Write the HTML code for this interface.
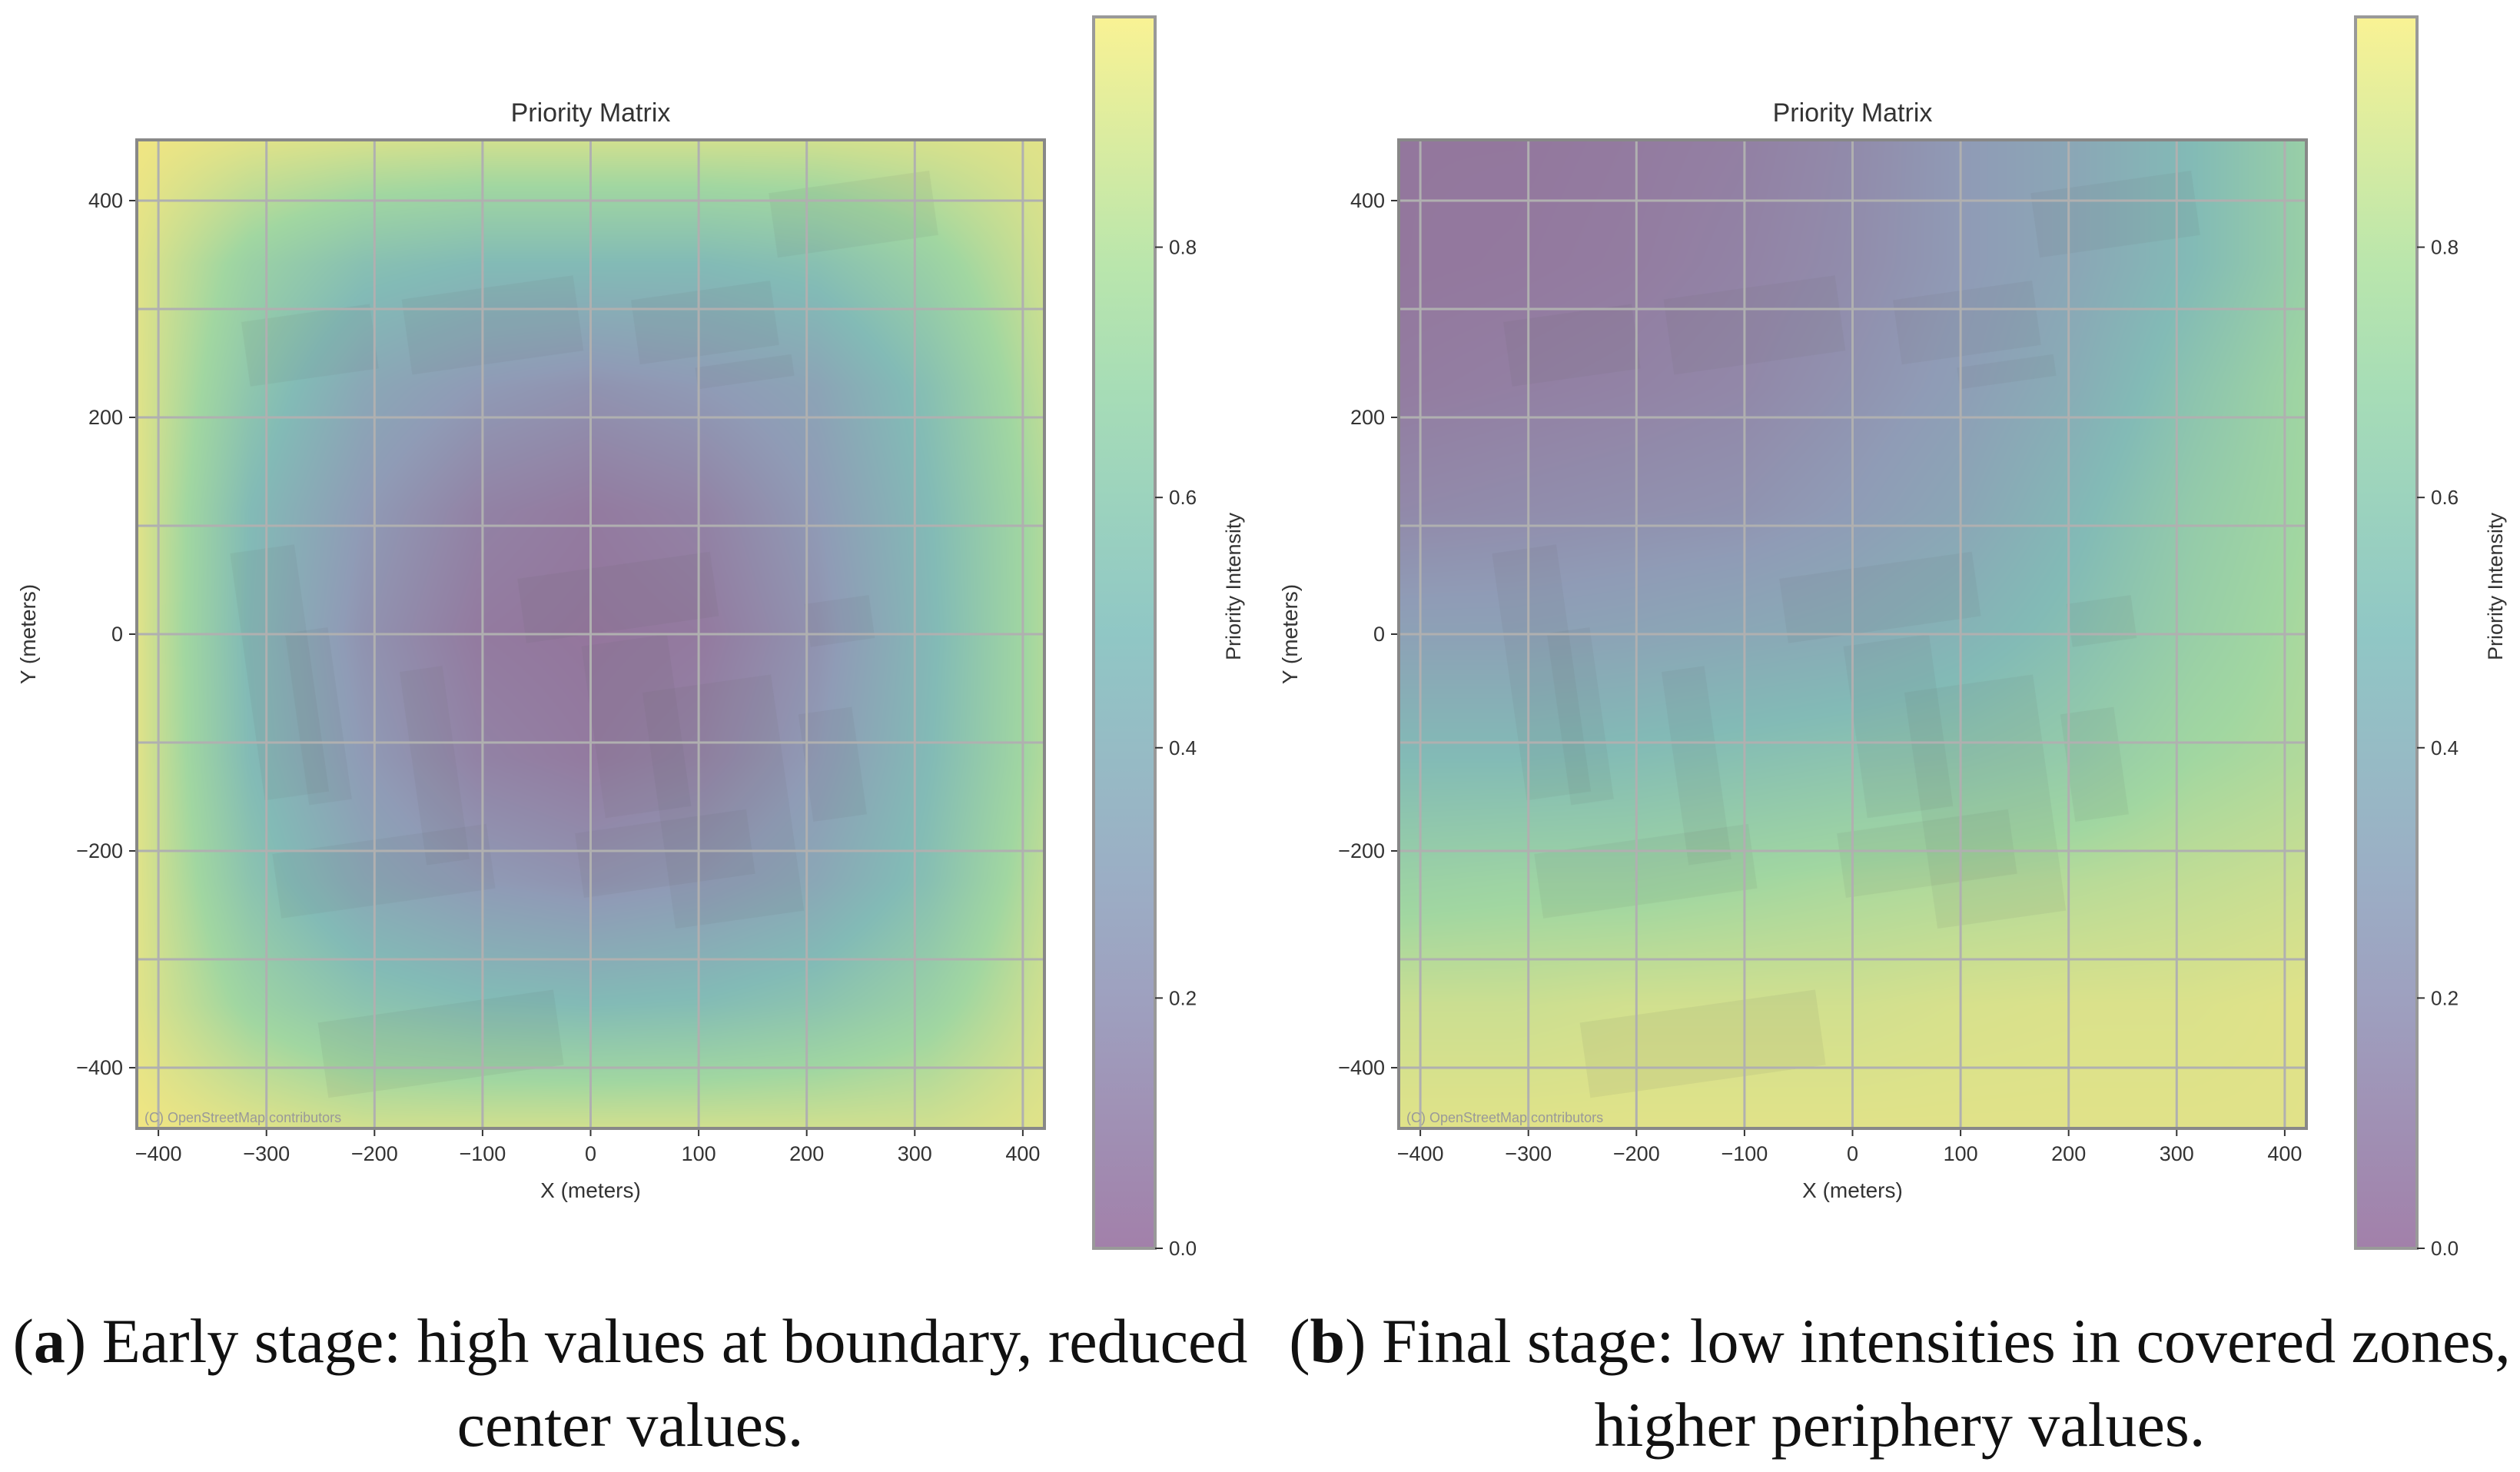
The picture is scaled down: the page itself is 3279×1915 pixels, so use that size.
<!DOCTYPE html>
<html><head><meta charset="utf-8">
<style>
html,body{margin:0;padding:0;background:#fff;}
body{width:3279px;height:1915px;position:relative;overflow:hidden;font-family:"Liberation Sans",sans-serif;}
.cap{position:absolute;font-family:"Liberation Serif",serif;font-size:82px;line-height:109px;color:#111;text-align:center;white-space:nowrap;}
</style></head>
<body>
<svg id="fig" width="3279" height="1915" style="position:absolute;left:0;top:0"></svg>
<div class="cap" style="left:0;top:1690px;width:1640px;">(<b>a</b>) Early stage: high values at boundary, reduced<br>center values.</div>
<div class="cap" style="left:1665px;top:1690px;width:1614px;">(<b>b</b>) Final stage: low intensities in covered zones,<br>higher periphery values.</div>
<script>
const xTicks=[-400,-300,-200,-100,0,100,200,300,400];
const yTicks=[400,200,0,-200,-400];
const yGrid=[400,300,200,100,0,-100,-200,-300,-400];
const cbTicks=[0.0,0.2,0.4,0.6,0.8];
const gridA=[
[1,.95,.92,.9,.9,.9,.9,.92,.95],
[.95,.7,.55,.5,.5,.5,.55,.7,.9],
[.95,.6,.35,.25,.2,.25,.32,.55,.85],
[.95,.5,.25,.1,.05,.1,.25,.5,.8],
[.95,.48,.2,.05,.02,.05,.2,.48,.8],
[.95,.5,.25,.1,.05,.1,.25,.5,.8],
[.95,.58,.35,.25,.2,.25,.35,.55,.85],
[.95,.72,.58,.52,.5,.52,.58,.7,.9],
[1,.95,.9,.9,.9,.9,.9,.9,.95]];
const gridB=[
[.03,.03,.05,.08,.15,.25,.35,.5,.68],
[.03,.04,.06,.1,.16,.25,.35,.5,.68],
[.06,.08,.1,.13,.2,.28,.4,.58,.74],
[.14,.16,.18,.2,.26,.34,.48,.64,.75],
[.3,.3,.32,.35,.38,.45,.55,.68,.78],
[.5,.5,.52,.55,.58,.6,.65,.75,.8],
[.7,.72,.72,.75,.78,.8,.82,.85,.88],
[.88,.88,.9,.9,.9,.92,.93,.93,.95],
[.95,.95,.95,.95,.95,.95,.95,.95,.95]];
const buildings=[[-280,330,120,60],[-130,330,160,70],[80,300,130,60],[220,380,150,60],[-320,120,60,230],[-180,-10,40,180],[-60,60,180,60],[-10,-10,80,160],[40,-60,120,220],[-320,-160,200,60],[-300,-320,220,70],[-40,-180,160,60],[180,-100,50,100],[200,0,60,40],[-280,40,40,160],[130,230,90,20]];
const V=[[0,[68,1,84]],[.25,[59,82,139]],[.5,[33,145,140]],[.75,[94,201,98]],[1,[253,231,37]]];
function vir(t){t=Math.max(0,Math.min(1,t));for(let i=1;i<V.length;i++){if(t<=V[i][0]){const a=V[i-1],b=V[i],f=(t-a[0])/(b[0]-a[0]);return a[1].map((c,k)=>c+(b[1][k]-c)*f);}}return V[4][1];}
function blend(c,bg){return 'rgb('+c.map((v,k)=>Math.round(v*0.5+bg[k]*0.5)).join(',')+')';}
const NS='http://www.w3.org/2000/svg';
const svg=document.getElementById('fig');
function el(tag,attrs,parent,text){const e=document.createElementNS(NS,tag);for(const k in attrs)e.setAttribute(k,attrs[k]);if(text!==undefined)e.textContent=text;(parent||svg).appendChild(e);return e;}
function panel(ox,grid,id){
  const L=ox+178,R=ox+1359,T=182,B=1468;
  const xs=v=>L+(v+420)/840*(R-L);
  const ys=v=>T+(456-v)/912*(B-T);
  const g=el('g',{});
  
  
  const fo=el('foreignObject',{x:L,y:T,width:R-L,height:B-T},g);
  const cv=document.createElement('canvas');cv.width=R-L;cv.height=B-T;
  
  
  fo.appendChild(cv);
  const ctx=cv.getContext('2d');const W=cv.width,H=cv.height;
  const img=ctx.createImageData(W,H);const n=grid.length-1;
  for(let y=0;y<H;y++){const gy=y/(H-1)*n,iy=Math.min(n-1,Math.floor(gy)),fy=gy-iy;
    for(let x=0;x<W;x++){const gx=x/(W-1)*n,ix=Math.min(n-1,Math.floor(gx)),fx=gx-ix;
      const v=grid[iy][ix]*(1-fx)*(1-fy)+grid[iy][ix+1]*fx*(1-fy)+grid[iy+1][ix]*(1-fx)*fy+grid[iy+1][ix+1]*fx*fy;
      const c=vir(v);const p=(y*W+x)*4;
      img.data[p]=c[0]*0.5+228*0.5;img.data[p+1]=c[1]*0.5+228*0.5;img.data[p+2]=c[2]*0.5+224*0.5;img.data[p+3]=255;}}
  ctx.putImageData(img,0,0);
  const bg=el('g',{transform:`rotate(-8 ${xs(0)} ${ys(0)})`,'clip-path':`url(#clip${id})`},g);
  const cp=el('clipPath',{id:'clip'+id},g);el('rect',{x:L,y:T,width:R-L,height:B-T},cp);
  buildings.forEach(b=>{const r=el('rect',{x:xs(b[0]),y:ys(b[1]),width:b[2]/840*(R-L),height:b[3]/912*(B-T),fill:'#555',opacity:0.08},bg);
    });
  xTicks.forEach(v=>{el('line',{x1:xs(v),x2:xs(v),y1:T,y2:B,stroke:'#b0b0b0','stroke-width':3},g);
    el('line',{x1:xs(v),x2:xs(v),y1:B,y2:B+10,stroke:'#333','stroke-width':2},g);
    const t=el('text',{x:xs(v),y:B+42,'text-anchor':'middle','font-size':27,fill:'#333'},g,v<0?'\u2212'+(-v):String(v));
    });
  yGrid.forEach(v=>{el('line',{x1:L,x2:R,y1:ys(v),y2:ys(v),stroke:'#b0b0b0','stroke-width':3},g);});
  yTicks.forEach(v=>{el('line',{x1:L-10,x2:L,y1:ys(v),y2:ys(v),stroke:'#333','stroke-width':2},g);
    const t=el('text',{x:L-18,y:ys(v)+9,'text-anchor':'end','font-size':27,fill:'#333'},g,v<0?'\u2212'+(-v):String(v));
    });
  el('rect',{x:L,y:T,width:R-L,height:B-T,fill:'none',stroke:'#888','stroke-width':4},g);
  const ti=el('text',{x:(L+R)/2,y:158,'text-anchor':'middle','font-size':34,fill:'#333'},g,'Priority Matrix');
  
  const xl=el('text',{x:(L+R)/2,y:1558,'text-anchor':'middle','font-size':28,fill:'#333'},g,'X (meters)');
  
  const yl=el('text',{x:0,y:0,'text-anchor':'middle','font-size':28,fill:'#333',transform:`translate(${ox+46},${ys(0)}) rotate(-90)`},g,'Y (meters)');
  
  const at=el('text',{x:L+10,y:B-8,'font-size':18,fill:'#999'},g,'(C) OpenStreetMap contributors');
  
  const cL=ox+1423,cR=ox+1503,cT=22,cB=1624;
  const cs=v=>cB-v/0.984*(cB-cT);
  const cg=el('g',{},g);
  const gid='cbg'+id;const lg=el('linearGradient',{id:gid,x1:0,y1:1,x2:0,y2:0},cg);
  for(let i=0;i<=10;i++){el('stop',{offset:i/10,'stop-color':blend(vir(i/10*0.984),[255,255,255])},lg);}
  el('rect',{x:cL,y:cT,width:cR-cL,height:cB-cT,fill:`url(#${gid})`,stroke:'#999','stroke-width':4},cg);
  cbTicks.forEach(v=>{el('line',{x1:cR,x2:cR+10,y1:cs(v),y2:cs(v),stroke:'#333','stroke-width':2},cg);
    const t=el('text',{x:cR+18,y:cs(v)+9,'font-size':26,fill:'#333'},cg,v.toFixed(1));
    });
  const cl=el('text',{x:0,y:0,'text-anchor':'middle','font-size':27,fill:'#333',transform:`translate(${ox+1614},${(cT+cB)/2-60}) rotate(-90)`},cg,'Priority Intensity');
  
}
panel(0,gridA,'a');
panel(1642,gridB,'b');
</script>
</body></html>
